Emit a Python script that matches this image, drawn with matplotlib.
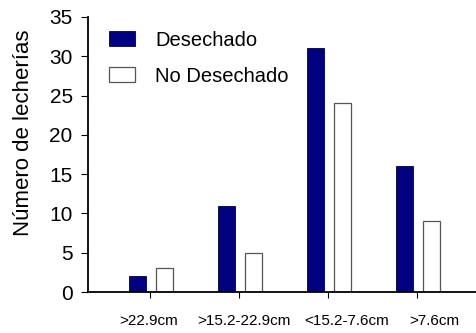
import matplotlib
matplotlib.use("Agg")
import matplotlib.pyplot as plt
import matplotlib.transforms as mtransforms
import numpy as np

categories = [">22.9cm", ">15.2-22.9cm", "<15.2-7.6cm", ">7.6cm"]
desechado = [2, 11, 31, 16]
no_desechado = [3, 5, 24, 9]

plt.rcParams['font.family'] = ['Liberation Sans', 'DejaVu Sans']

fig = plt.figure(figsize=(4.77, 3.33), dpi=100)
ax = fig.add_axes([0.1845, 0.123, 0.8155, 0.826])

x = np.arange(len(categories))
w = 0.19
ax.bar(x - 0.145, desechado, w, color="#000080", edgecolor="#000040", linewidth=0.6, label="Desechado")
ax.bar(x + 0.155, no_desechado, w, color="white", edgecolor="#555555", linewidth=0.9, label="No Desechado")

ax.set_xlim(-0.7, 3.67)
ax.set_ylim(0, 35)
ax.set_yticks(range(0, 36, 5))
ax.set_xticks(x)
ax.set_xticklabels(categories, fontsize=11)
ax.tick_params(axis='x', length=4, pad=12)
ax.tick_params(axis='y', labelsize=15, length=5, pad=6)

# labels in the original sit a little right of their ticks
label_shift_px = [-2, 4.5, 18, 17]
for lab, dx in zip(ax.get_xticklabels(), label_shift_px):
    lab.set_transform(lab.get_transform() + mtransforms.ScaledTranslation(dx / 100, 0, fig.dpi_scale_trans))

ax.spines['top'].set_visible(False)
ax.spines['right'].set_visible(False)
ax.spines['left'].set_linewidth(1.3)
ax.spines['bottom'].set_linewidth(1.3)
ax.set_ylabel("Número de lecherías", fontsize=16)
ax.yaxis.set_label_coords(-0.139, 0.578)

ax.legend(loc="upper left", bbox_to_anchor=(0.033, 0.98), borderaxespad=0, frameon=False, fontsize=14.5,
          handlelength=1.3, handleheight=0.8, labelspacing=0.85, handletextpad=1.0)

plt.savefig("out.png", dpi=100)
